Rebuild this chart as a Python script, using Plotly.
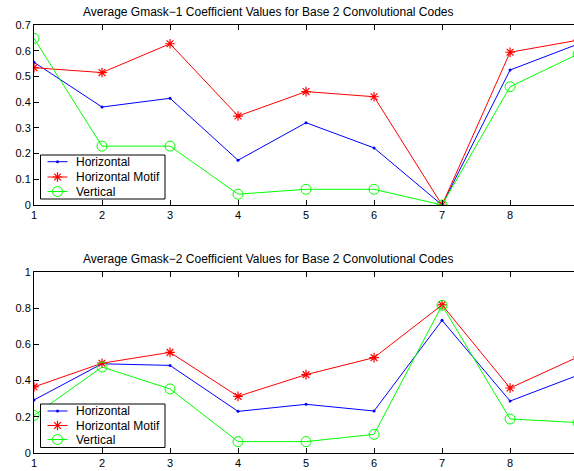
import plotly.graph_objects as go

# Code index along the x axis
codes = [1, 2, 3, 4, 5, 6, 7, 8, 9]

# Gmask-1 averages
g1_horizontal = [0.555, 0.381, 0.415, 0.174, 0.320, 0.222, 0.0, 0.525, 0.626]
g1_horiz_motif = [0.534, 0.515, 0.627, 0.346, 0.441, 0.421, 0.0, 0.594, 0.641]
g1_vertical = [0.648, 0.229, 0.229, 0.042, 0.061, 0.061, 0.0, 0.460, 0.587]

# Gmask-2 averages
g2_horizontal = [0.293, 0.493, 0.484, 0.230, 0.269, 0.232, 0.733, 0.287, 0.430]
g2_horiz_motif = [0.365, 0.496, 0.556, 0.313, 0.433, 0.527, 0.818, 0.359, 0.531]
g2_vertical = [0.208, 0.475, 0.354, 0.063, 0.063, 0.103, 0.816, 0.188, 0.168]

series_names = ["Horizontal", "Horizontal Motif", "Vertical"]
titles = [
    "Average Gmask\u22121 Coefficient Values for Base 2 Convolutional Codes",
    "Average Gmask\u22122 Coefficient Values for Base 2 Convolutional Codes",
]

FONT = "Liberation Sans, Arial, Helvetica, sans-serif"
colors = ["#0000ff", "#ff0000", "#00ff00"]
markers = [
    dict(symbol="circle", size=3, color=colors[0]),
    dict(symbol="asterisk-open", size=8, color=colors[1],
         line=dict(color=colors[1], width=1.2)),
    dict(symbol="circle-open", size=10, color=colors[2],
         line=dict(color=colors[2], width=1)),
]

# Page geometry (pixels)
W, H = 574, 471
ML, MR, MT, MB = 34, 0, 25, 18
TOP_PLOT = (25, 205)      # pixel rows of the upper axes box
BOT_PLOT = (272, 453)     # pixel rows of the lower axes box
span = (H - MB) - MT


def frac(py):
    return ((H - MB) - py) / span


fig = go.Figure()

panels = [
    ("x", "y", [g1_horizontal, g1_horiz_motif, g1_vertical]),
    ("x2", "y2", [g2_horizontal, g2_horiz_motif, g2_vertical]),
]
for xa, ya, data in panels:
    for name, vals, col, mk in zip(series_names, data, colors, markers):
        fig.add_trace(go.Scatter(
            x=codes, y=vals, name=name, mode="lines+markers",
            line=dict(color=col, width=1), marker=mk,
            xaxis=xa, yaxis=ya, showlegend=False, hoverinfo="x+y+name",
        ))

# Legend boxes drawn on a pixel-unit overlay axis pair (x3/y3)
legend_boxes = [
    dict(box=(40.5, 165, 155, 199), rows=[161.7, 177.0, 191.5]),
    dict(box=(40.5, 165, 404, 447.5), rows=[411.0, 425.5, 439.5]),
]
for lg in legend_boxes:
    x0, x1, y0, y1 = lg["box"]
    fig.add_trace(go.Scatter(
        x=[x0, x1, x1, x0, x0], y=[y0, y0, y1, y1, y0], mode="lines",
        fill="toself", fillcolor="white", line=dict(color="black", width=1),
        xaxis="x3", yaxis="y3", showlegend=False, hoverinfo="skip",
    ))
    for ry, name, col, mk in zip(lg["rows"], series_names, colors, markers):
        fig.add_trace(go.Scatter(
            x=[47.5, 67.5], y=[ry, ry], mode="lines",
            line=dict(color=col, width=1),
            xaxis="x3", yaxis="y3", showlegend=False, hoverinfo="skip",
        ))
        fig.add_trace(go.Scatter(
            x=[57.5], y=[ry], mode="markers", marker=mk,
            xaxis="x3", yaxis="y3", showlegend=False, hoverinfo="skip",
        ))
        fig.add_annotation(
            text=name, xref="x3", yref="y3", x=73.5, y=ry,
            showarrow=False, xanchor="left", yanchor="middle",
            font=dict(family=FONT, size=12, color="black"),
        )

axis_common = dict(
    showgrid=False, zeroline=False, showline=True, linecolor="black",
    linewidth=1, ticks="inside", ticklen=5, tickcolor="black",
    tickfont=dict(family=FONT, size=11, color="black"),
)
xcommon = dict(range=[1, 8.94], dtick=1, tick0=1, mirror="ticks",
               domain=[0, 1], **axis_common)

fig.update_layout(
    xaxis=dict(anchor="y", **xcommon),
    xaxis2=dict(anchor="y2", **xcommon),
    yaxis=dict(anchor="x", domain=[frac(TOP_PLOT[1]), frac(TOP_PLOT[0])],
               range=[0, 0.7], dtick=0.1, tickformat=".1~f", **axis_common),
    yaxis2=dict(anchor="x2", domain=[frac(BOT_PLOT[1]), frac(BOT_PLOT[0])],
                range=[0, 1], dtick=0.2, tickformat=".1~f", **axis_common),
    xaxis3=dict(domain=[0, 1], range=[ML, W - MR], visible=False,
                anchor="y3", fixedrange=True),
    yaxis3=dict(domain=[0, 1], range=[H - MB, MT], visible=False,
                anchor="x3", fixedrange=True),
)

title_cx = (268 - ML) / (W - ML - MR)
for py, text in zip([12, 259], titles):
    fig.add_annotation(
        text=text, xref="paper", yref="paper", x=title_cx, y=frac(py),
        showarrow=False, xanchor="center", yanchor="middle",
        font=dict(family=FONT, size=12, color="black"),
    )

fig.update_layout(
    width=W, height=H, autosize=False,
    margin=dict(l=ML, r=MR, t=MT, b=MB),
    paper_bgcolor="white", plot_bgcolor="rgba(0,0,0,0)",
    showlegend=False,
)

fig.write_html("out.html")
